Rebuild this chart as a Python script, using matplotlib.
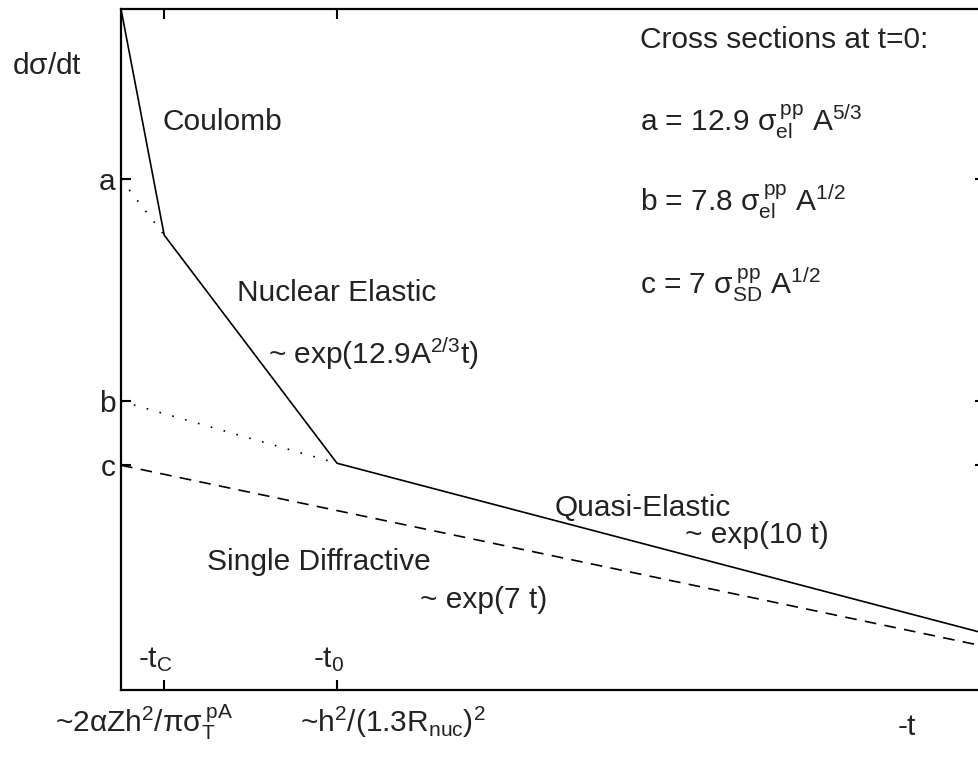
import matplotlib
matplotlib.use("Agg")
import matplotlib.pyplot as plt

# momentum transfer markers and axis extent (-t)
t_c = 0.2
t_0 = 1.0
t_max = 4.0

# log cross-section levels at t=0
a = 7.50
b = 4.24
c = 3.30
y_top = 10.0

# solid envelope: Coulomb -> nuclear elastic -> quasi-elastic
solid_t = [0.0, t_c, t_0, t_max]
solid_y = [y_top, 6.68, 3.33, 0.83]
# single diffractive (dashed)
sd_t = [0.0, t_max]
sd_y = [c, 0.64]
# extrapolations back to t=0 (dotted)
dot_a_t = [0.0, t_c]
dot_a_y = [a, 6.68]
dot_b_t = [0.0, t_0]
dot_b_y = [b, 3.33]

plt.rcParams['font.family'] = ['Liberation Sans', 'DejaVu Sans']
plt.rcParams['mathtext.fontset'] = 'custom'
plt.rcParams['mathtext.rm'] = 'Liberation Sans'
plt.rcParams['mathtext.it'] = 'Liberation Sans'
plt.rcParams['mathtext.bf'] = 'Liberation Sans'

fs = 21.5
col = '#222222'

fig = plt.figure(figsize=(9.79, 7.57), dpi=100)
ax = fig.add_axes([121/979, 67/757, 864/979, 681/757])

ax.plot(solid_t, solid_y, color='k', lw=1.2)
ax.plot(sd_t, sd_y, color='k', lw=1.2, linestyle=(0, (7, 5)))
ax.plot(dot_a_t, dot_a_y, color='k', lw=1.2, linestyle=(0, (1, 7)))
ax.plot(dot_b_t, dot_b_y, color='k', lw=1.2, linestyle=(0, (1, 7)))

ax.set_xlim(0, t_max)
ax.set_ylim(0, y_top)

# inward ticks on all sides
ax.set_xticks([t_c, t_0])
ax.set_xticklabels(['', ''])
ax.set_yticks([a, b, c])
ax.set_yticklabels(['a', 'b', 'c'], fontsize=fs, color=col)
ax.tick_params(direction='in', length=7, width=1.5, top=True, right=True, pad=4)
for s in ax.spines.values():
    s.set_linewidth(1.6)

def px(x, y):
    # place text by figure pixel (origin top-left)
    return x / 979, 1 - y / 757

tkw = dict(transform=fig.transFigure, fontsize=fs, color=col, va='center', ha='left')
fig.text(*px(12, 66), r'd$\sigma$/dt', **tkw)
fig.text(*px(163, 122), 'Coulomb', **tkw)
fig.text(*px(237, 293), 'Nuclear Elastic', **tkw)
fig.text(*px(268, 354), r'~ exp(12.9A$^{2/3}$t)', **tkw)
fig.text(*px(640, 40), 'Cross sections at t=0:', **tkw)
fig.text(*px(640, 122), r'a = 12.9 $\sigma_{el}^{\,pp}$ A$^{5/3}$', **tkw)
fig.text(*px(640, 202), r'b = 7.8 $\sigma_{el}^{\,pp}$ A$^{1/2}$', **tkw)
fig.text(*px(640, 285), r'c = 7 $\sigma_{SD}^{\,pp}$ A$^{1/2}$', **tkw)
fig.text(*px(555, 508), 'Quasi-Elastic', **tkw)
fig.text(*px(685, 535), '~ exp(10 t)', **tkw)
fig.text(*px(207, 562), 'Single Diffractive', **tkw)
fig.text(*px(420, 600), '~ exp(7 t)', **tkw)
fig.text(*px(138, 660), r'-t$_C$', **tkw)
fig.text(*px(313, 660), r'-t$_0$', **tkw)
fig.text(*px(55, 722), r'~2$\alpha$Zh$^2$/$\pi\sigma_T^{\,pA}$', **tkw)
fig.text(*px(300, 722), r'~h$^2$/(1.3R$_{nuc}$)$^2$', **tkw)
fig.text(*px(898, 727), '-t', **tkw)

fig.savefig('out.png', dpi=100)
